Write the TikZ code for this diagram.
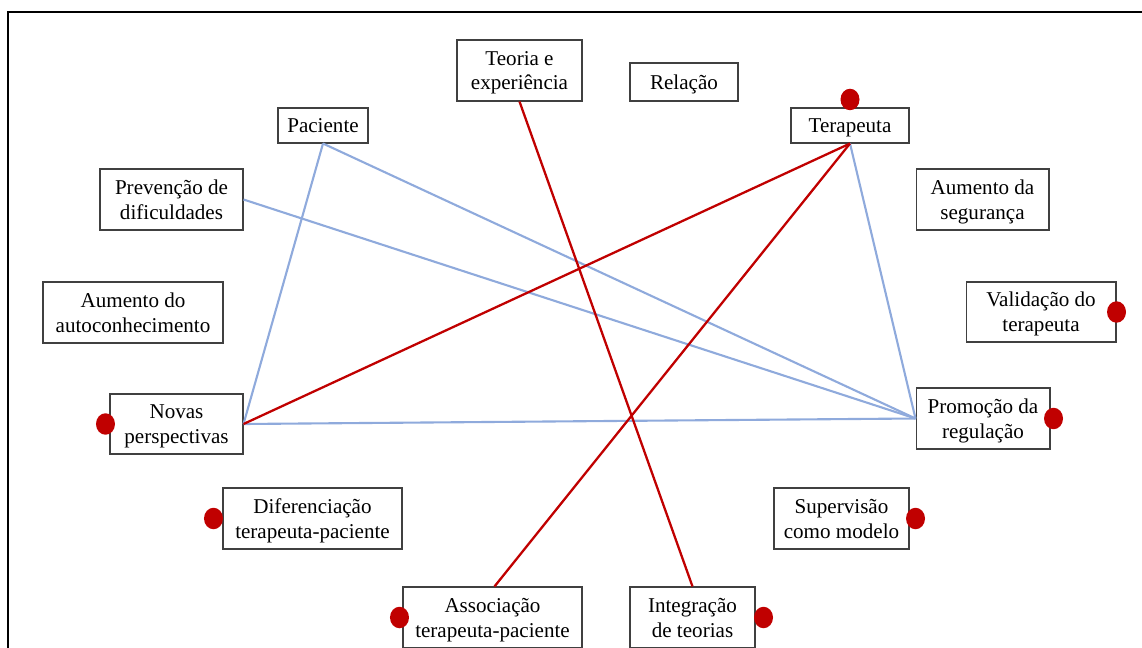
\documentclass[tikz,border=0pt]{standalone}
\usepackage{fontspec}
\setmainfont{Liberation Serif}
\usetikzlibrary{shapes.geometric}
\definecolor{lineblue}{HTML}{8FAADC}
\definecolor{linered}{HTML}{C00000}
\begin{document}
\begin{tikzpicture}[x=0.02cm, y=-0.02cm,
block/.style = {rectangle, draw=black!75, line width=0.6pt, fill=white, align=center, inner sep=0pt, text depth=-0.1em, font=\fontsize{12}{14.2}\selectfont},
dot/.style = {ellipse, fill=linered, inner sep=0pt, minimum width=0.38cm, minimum height=0.43cm},
blueline/.style = {draw=lineblue, line width=1.2pt},
redline/.style = {draw=linered, line width=1.3pt}]
\useasboundingbox (0,0) rectangle (1142,648);
\draw [line width=0.85pt] (1142,12) -- (8,12) -- (8,648);
\node[block, minimum width=2.5cm, minimum height=1.22cm] at (519.5,70.5) (teoria) {Teoria e\\experiência};
\node[block, minimum width=2.16cm, minimum height=0.76cm] at (684,82) (relacao) {Relação};
\node[block, minimum width=1.8cm, minimum height=0.7cm] at (323,125.5) (paciente) {Paciente};
\node[block, minimum width=2.36cm, minimum height=0.7cm] at (850,125.5) (terapeuta) {Terapeuta};
\node[block, minimum width=2.86cm, minimum height=1.22cm] at (171.5,199.5) (prevencao) {Prevenção de\\dificuldades};
\node[block, minimum width=2.66cm, minimum height=1.22cm] at (982.5,199.5) (seguranca) {Aumento da\\segurança};
\node[block, minimum width=3.6cm, minimum height=1.22cm] at (133,312.5) (autocon) {Aumento do\\autoconhecimento};
\node[block, minimum width=3.0cm, minimum height=1.2cm] at (1041,312) (validacao) {Validação do\\terapeuta};
\node[block, minimum width=2.66cm, minimum height=1.2cm] at (176.5,424) (novas) {Novas\\perspectivas};
\node[block, minimum width=2.68cm, minimum height=1.22cm] at (983,418.5) (promocao) {Promoção da\\regulação};
\node[block, minimum width=3.58cm, minimum height=1.22cm] at (312.5,518.5) (diferenc) {Diferenciação\\terapeuta-paciente};
\node[block, minimum width=2.7cm, minimum height=1.22cm] at (841.5,518.5) (supervisao) {Supervisão\\como modelo};
\node[block, minimum width=3.58cm, minimum height=1.22cm] at (492.5,617.5) (associacao) {Associação\\terapeuta-paciente};
\node[block, minimum width=2.5cm, minimum height=1.22cm] at (692.5,617.5) (integracao) {Integração\\de teorias};
\draw [blueline] (paciente.south) -- (novas.east);
\draw [blueline] (paciente.south) -- (promocao.west);
\draw [blueline] (prevencao.east) -- (promocao.west);
\draw [blueline] (novas.east) -- (promocao.west);
\draw [blueline] (terapeuta.south) -- (promocao.west);
\draw [redline] (teoria.south) -- (integracao.north);
\draw [redline] (terapeuta.south) -- (novas.east);
\draw [redline] (terapeuta.south) -- ([xshift=0.04cm]associacao.north);
% marcadores
\node[dot] at ([yshift=0.16cm]terapeuta.north) (d1) {};
\node[dot] at (validacao.east) (d2) {};
\node[dot] at ([xshift=0.06cm]promocao.east) (d3) {};
\node[dot] at ([xshift=0.12cm]supervisao.east) (d4) {};
\node[dot] at ([xshift=0.16cm]integracao.east) (d5) {};
\node[dot] at ([xshift=-0.06cm]associacao.west) (d6) {};
\node[dot] at ([xshift=-0.08cm]novas.west) (d7) {};
\node[dot] at ([xshift=-0.18cm]diferenc.west) (d8) {};
\end{tikzpicture}
\end{document}
